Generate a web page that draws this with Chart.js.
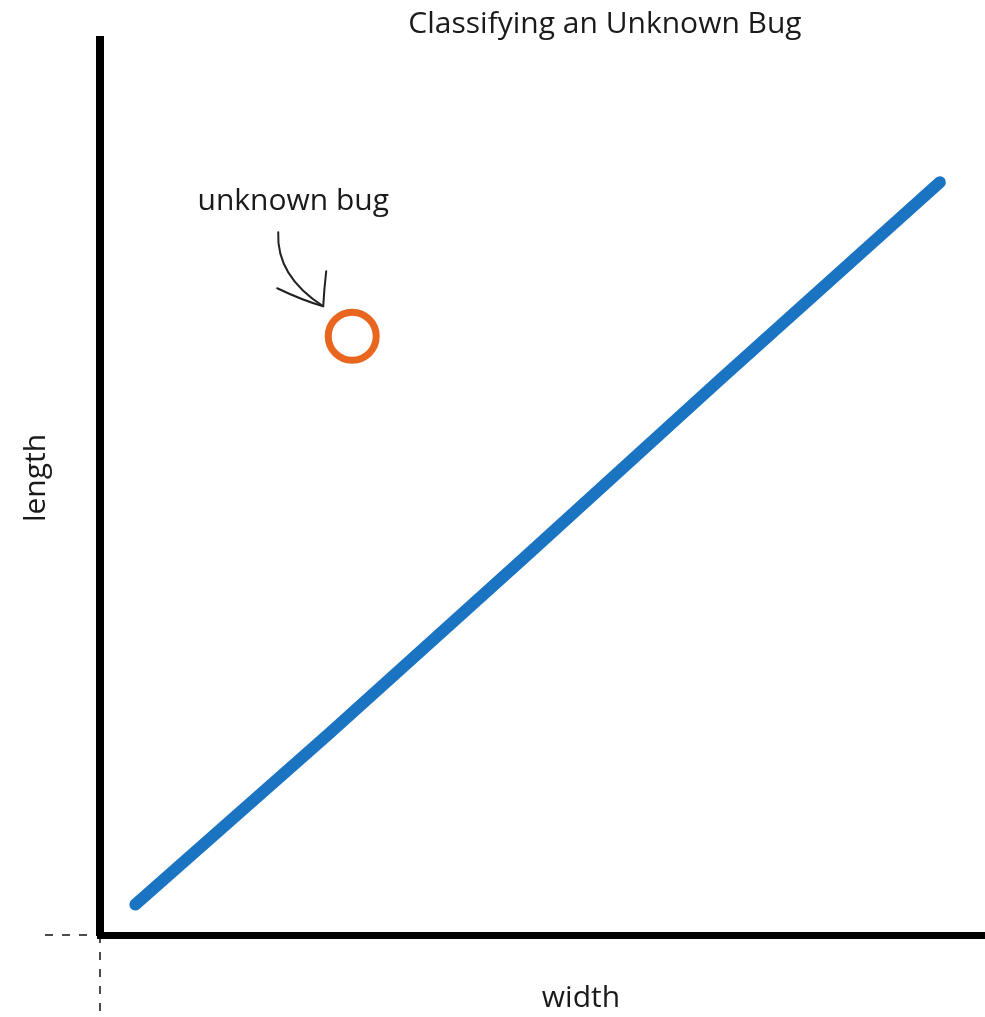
<!DOCTYPE html>
<html>
<head>
<meta charset="utf-8">
<script src="https://cdn.jsdelivr.net/npm/chart.js@4.4.1/dist/chart.umd.min.js"></script>
<style>
  html, body { margin: 0; padding: 0; background: #ffffff; overflow: hidden; }
  #wrap { width: 985px; height: 1017px; position: relative; overflow: hidden; }
</style>
</head>
<body>
<div id="wrap"><canvas id="c" width="985" height="1017"></canvas></div>
<script>
// ---- data ----
const chartTitle = "Classifying an Unknown Bug";
const xAxisLabel = "width";
const yAxisLabel = "length";
const annotationText = "unknown bug";

const knownWidths  = [0.40, 2.60, 4.80, 7.00, 9.49];
const knownLengths = [0.34, 2.26, 4.22, 6.20, 8.41];

const unknownWidth  = [2.85];
const unknownLength = [6.69];

const xRange = [0, 10];
const yRange = [0, 10];

// ---- chart ----
const FONT = "'Open Sans', 'DejaVu Sans', sans-serif";

const decorPlugin = {
  id: 'decor',
  afterLayout(chart) {
    // stretch the plot area to the right edge of the canvas
    const a = chart.chartArea;
    const target = chart.width;
    if (a.right < target) {
      const xs = chart.scales.x;
      a.right = target;
      a.width = a.right - a.left;
      xs.right = target;
      xs.width = xs.right - xs.left;
      xs.configure();
    }
  },
  beforeDatasetsDraw(chart) {
    const ctx = chart.ctx;
    const a = chart.chartArea;
    ctx.save();
    ctx.strokeStyle = 'rgba(0,0,0,0.7)';
    ctx.lineWidth = 2;
    ctx.setLineDash([8, 9]);
    ctx.beginPath();
    ctx.moveTo(a.left, a.bottom);
    ctx.lineTo(a.left, 1012);
    ctx.moveTo(45, a.bottom);
    ctx.lineTo(a.left, a.bottom);
    ctx.stroke();
    ctx.restore();
  },
  afterDraw(chart) {
    const ctx = chart.ctx;
    const xs = chart.scales.x, ys = chart.scales.y;
    ctx.save();
    ctx.fillStyle = '#1a1a1a';
    ctx.textAlign = 'center';
    ctx.textBaseline = 'middle';
    ctx.font = `30px ${FONT}`;
    ctx.fillText(chartTitle, 605, 24);
    ctx.fillText(xAxisLabel, 581, 998);
    ctx.save();
    ctx.translate(36, 478);
    ctx.rotate(-Math.PI / 2);
    ctx.fillText(yAxisLabel, 0, 0);
    ctx.restore();
    // annotation
    const px = xs.getPixelForValue(unknownWidth[0]);
    const py = ys.getPixelForValue(unknownLength[0]);
    ctx.fillText(annotationText, px - 59, py - 135);
    // arrow
    const tipX = px - 29, tipY = py - 30;
    ctx.strokeStyle = '#222';
    ctx.lineWidth = 2;
    ctx.lineCap = 'round';
    ctx.beginPath();
    ctx.moveTo(px - 74, py - 104);
    ctx.quadraticCurveTo(px - 76, py - 60, tipX, tipY);
    ctx.stroke();
    ctx.beginPath();
    ctx.moveTo(px - 75, py - 48);
    ctx.quadraticCurveTo(px - 50, py - 36, tipX, tipY);
    ctx.moveTo(tipX, tipY);
    ctx.quadraticCurveTo(px - 28, py - 48, px - 26, py - 65);
    ctx.stroke();
    ctx.restore();
  }
};

new Chart(document.getElementById('c'), {
  type: 'scatter',
  data: {
    datasets: [
      {
        label: 'known bugs',
        data: knownWidths.map((w, i) => ({ x: w, y: knownLengths[i] })),
        showLine: true,
        borderColor: '#1a74c2',
        borderWidth: 12,
        borderCapStyle: 'round',
        pointRadius: 0,
        order: 2
      },
      {
        label: 'unknown bug',
        data: unknownWidth.map((w, i) => ({ x: w, y: unknownLength[i] })),
        pointRadius: 24,
        borderWidth: 7,
        borderColor: '#e8661e',
        backgroundColor: 'rgba(255,255,255,0)',
        order: 1
      }
    ]
  },
  options: {
    responsive: false,
    animation: false,
    layout: { padding: { left: 100, right: 0, top: 40, bottom: 82 } },
    plugins: {
      legend: { display: false },
      title: { display: false },
      tooltip: { enabled: false }
    },
    scales: {
      x: {
        type: 'linear', min: xRange[0], max: xRange[1],
        grid: { display: false, drawTicks: false },
        ticks: { display: false },
        border: { display: true, color: '#000', width: 7 }
      },
      y: {
        type: 'linear', min: yRange[0], max: yRange[1],
        grid: { display: false, drawTicks: false },
        ticks: { display: false },
        border: { display: true, color: '#000', width: 8 }
      }
    }
  },
  plugins: [decorPlugin]
});
</script>
</body>
</html>
